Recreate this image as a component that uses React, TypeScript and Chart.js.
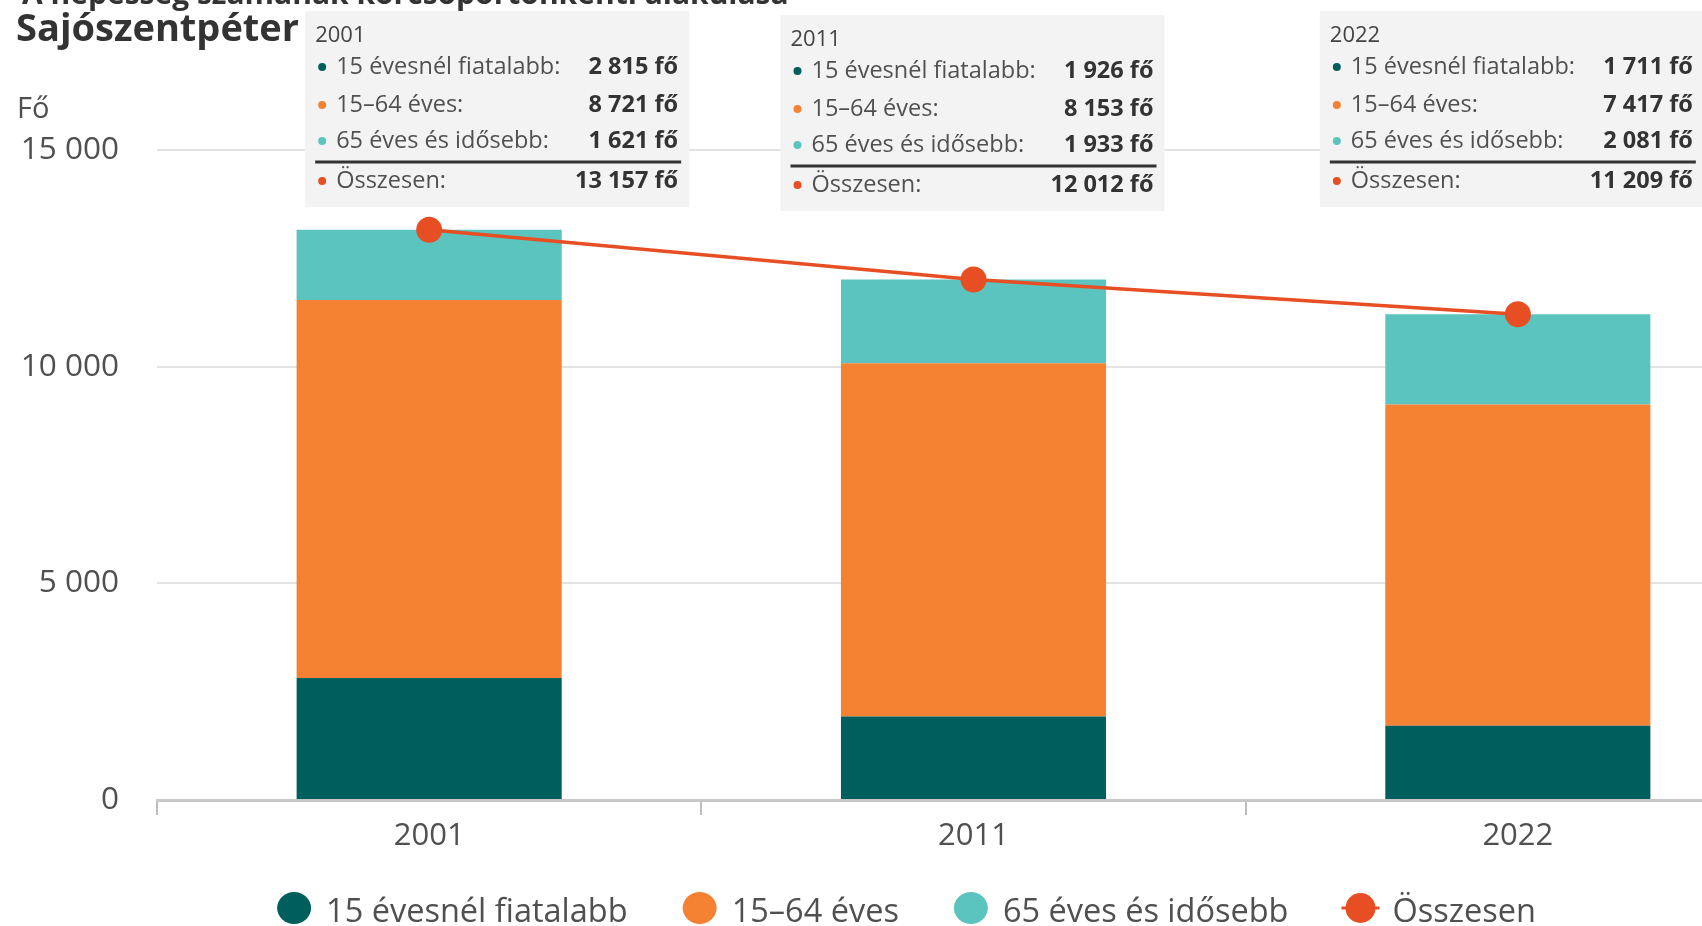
import React, { useEffect, useRef } from "react";
import { Chart, registerables } from "chart.js";

Chart.register(...registerables);

const title = "Sajószentpéter";
const subtitle = "A népesség számának korcsoportonkénti alakulása";
const yAxisTitle = "Fő";
const unit = "fő";

const categories = ["2001", "2011", "2022"];
const under15 = [2815, 1926, 1711];
const age15to64 = [8721, 8153, 7417];
const over65 = [1621, 1933, 2081];
const totals = [13157, 12012, 11209];
const seriesLabels = ["15 évesnél fiatalabb", "15–64 éves", "65 éves és idősebb", "Összesen"];
const seriesColors = ["#005f5c", "#f58233", "#5bc4be", "#e84e23"];

const yTicks = [0, 5000, 10000, 15000];
const yTickLabels = ["0", "5 000", "10 000", "15 000"];

const FONT = '"Open Sans", "Noto Sans", sans-serif';
const TEXT = "#505050";

const fmt = (v: number) => String(v).replace(/\B(?=(\d{3})+(?!\d))/g, " ");

// tooltip box layout (style only)
const tipShift = [68, -1, -6];
const tipTop = [11, 15, 11];
const tipW = 384;
const tipH = 196;

const overlayPlugin = {
  id: "overlay",
  afterDraw(chart: any) {
    const ctx = chart.ctx as CanvasRenderingContext2D;
    ctx.save();
    ctx.textAlign = "left";
    ctx.textBaseline = "alphabetic";

    // subtitle (cut off at top) and title
    ctx.fillStyle = "#333333";
    ctx.font = `bold 30px ${FONT}`;
    ctx.fillText(subtitle, 22, 4);
    ctx.font = `bold 38px ${FONT}`;
    ctx.fillText(title, 16, 41);

    // y axis title
    ctx.fillStyle = TEXT;
    ctx.font = `29px ${FONT}`;
    ctx.fillText(yAxisTitle, 17, 118);

    // tooltips
    const lineMeta = chart.getDatasetMeta(3);
    const seriesData = [under15, age15to64, over65];
    categories.forEach((cat, i) => {
      const px = lineMeta.data[i].x;
      const left = px - tipW / 2 + tipShift[i];
      const top = tipTop[i];
      ctx.fillStyle = "rgba(242,242,242,0.96)";
      ctx.fillRect(left, top, tipW, tipH);

      ctx.textAlign = "left";
      ctx.fillStyle = "#444444";
      ctx.font = `22px ${FONT}`;
      ctx.fillText(cat, left + 10, top + 31);

      const rowsY = [63, 101, 137];
      seriesData.forEach((arr, s) => {
        const y = top + rowsY[s];
        ctx.fillStyle = seriesColors[s];
        ctx.beginPath();
        ctx.arc(left + 17, y - 7, 4, 0, Math.PI * 2);
        ctx.fill();
        ctx.textAlign = "left";
        ctx.fillStyle = TEXT;
        ctx.font = `23.5px ${FONT}`;
        ctx.fillText(seriesLabels[s] + ":", left + 31, y);
        ctx.textAlign = "right";
        ctx.fillStyle = "#333333";
        ctx.font = `bold 23.5px ${FONT}`;
        ctx.fillText(`${fmt(arr[i])} ${unit}`, left + tipW - 11, y);
      });

      ctx.strokeStyle = "#333333";
      ctx.lineWidth = 3;
      ctx.beginPath();
      ctx.moveTo(left + 10, top + 151);
      ctx.lineTo(left + tipW - 8, top + 151);
      ctx.stroke();

      const ty = top + 177;
      ctx.fillStyle = seriesColors[3];
      ctx.beginPath();
      ctx.arc(left + 17, ty - 7, 4, 0, Math.PI * 2);
      ctx.fill();
      ctx.textAlign = "left";
      ctx.fillStyle = TEXT;
      ctx.font = `23.5px ${FONT}`;
      ctx.fillText(seriesLabels[3] + ":", left + 31, ty);
      ctx.textAlign = "right";
      ctx.fillStyle = "#333333";
      ctx.font = `bold 23.5px ${FONT}`;
      ctx.fillText(`${fmt(totals[i])} ${unit}`, left + tipW - 11, ty);
    });

    // legend
    ctx.font = `32.5px ${FONT}`;
    ctx.textAlign = "left";
    const markerW = 34;
    const gapMT = 15;
    const gapItems = 55;
    const items = chart.data.datasets.map((ds: any) => ({
      label: ds.label as string,
      color: (ds.type === "line" ? ds.borderColor : ds.backgroundColor) as string,
      isLine: ds.type === "line",
      w: ctx.measureText(ds.label).width,
    }));
    const total =
      items.reduce((a: number, it: any) => a + markerW + gapMT + it.w, 0) + gapItems * (items.length - 1);
    let x = chart.width / 2 - total / 2;
    const ly = 908;
    items.forEach((it: any) => {
      const cx = x + markerW / 2;
      ctx.fillStyle = it.color;
      if (it.isLine) {
        ctx.strokeStyle = it.color;
        ctx.lineWidth = 3;
        ctx.beginPath();
        ctx.moveTo(cx - 19, ly);
        ctx.lineTo(cx + 19, ly);
        ctx.stroke();
        ctx.beginPath();
        ctx.arc(cx, ly, 15, 0, Math.PI * 2);
        ctx.fill();
      } else {
        ctx.beginPath();
        ctx.ellipse(cx, ly, 17, 16, 0, 0, Math.PI * 2);
        ctx.fill();
      }
      ctx.fillStyle = TEXT;
      ctx.fillText(it.label, x + markerW + gapMT, 922);
      x += markerW + gapMT + it.w + gapItems;
    });

    ctx.restore();
  },
};

export default function App() {
  const ref = useRef<HTMLCanvasElement | null>(null);

  useEffect(() => {
    if (!ref.current) return;
    const barCommon = {
      type: "bar" as const,
      stack: "bars",
      barPercentage: 0.487,
      categoryPercentage: 1,
      order: 1,
      borderWidth: 0,
    };
    const chart = new Chart(ref.current, {
      type: "bar",
      data: {
        labels: categories,
        datasets: [
          { ...barCommon, label: seriesLabels[0], data: under15, backgroundColor: seriesColors[0] },
          { ...barCommon, label: seriesLabels[1], data: age15to64, backgroundColor: seriesColors[1] },
          { ...barCommon, label: seriesLabels[2], data: over65, backgroundColor: seriesColors[2] },
          {
            type: "line" as const,
            label: seriesLabels[3],
            data: totals,
            stack: "line",
            order: 0,
            borderColor: seriesColors[3],
            backgroundColor: seriesColors[3],
            borderWidth: 3.5,
            pointRadius: 13,
            pointBorderWidth: 0,
            pointBackgroundColor: seriesColors[3],
            tension: 0,
          } as any,
        ],
      },
      options: {
        animation: false,
        responsive: false,
        layout: { padding: { top: 150, left: 0, right: 23, bottom: 56 } },
        plugins: {
          legend: { display: false },
          tooltip: { enabled: false },
          title: { display: false },
        },
        scales: {
          x: {
            stacked: true,
            offset: true,
            grid: {
              offset: true,
              drawOnChartArea: false,
              drawTicks: true,
              tickLength: 15,
              color: "#bdbdbd",
              lineWidth: 2,
            },
            border: { display: true, color: "#c8c8c8", width: 3 },
            ticks: { font: { family: FONT, size: 31 }, color: TEXT, padding: 3 },
            afterFit: (s: any) => {
              s.height = 70;
            },
          },
          y: {
            stacked: true,
            min: 0,
            max: 15000,
            afterBuildTicks: (s: any) => {
              s.ticks = yTicks.map((v) => ({ value: v }));
            },
            ticks: {
              callback: (v: any) => {
                const idx = yTicks.indexOf(Number(v));
                return idx >= 0 ? yTickLabels[idx] : "";
              },
              font: { family: FONT, size: 31.5 },
              color: TEXT,
              padding: 38,
            },
            grid: { color: "#e3e3e3", lineWidth: 2, drawTicks: false },
            border: { display: false },
            afterFit: (s: any) => {
              s.width = 157;
            },
          },
        },
      },
      plugins: [overlayPlugin],
    } as any);
    if ((document as any).fonts && (document as any).fonts.ready) {
      (document as any).fonts.ready.then(() => chart.update());
    }
    return () => chart.destroy();
  }, []);

  return (
    <div
      style={{
        position: "fixed",
        left: 0,
        top: 0,
        width: 1702,
        height: 926,
        overflow: "hidden",
        background: "#ffffff",
      }}
    >
      <canvas ref={ref} width={1813} height={926} style={{ width: 1813, height: 926, display: "block" }} />
    </div>
  );
}
